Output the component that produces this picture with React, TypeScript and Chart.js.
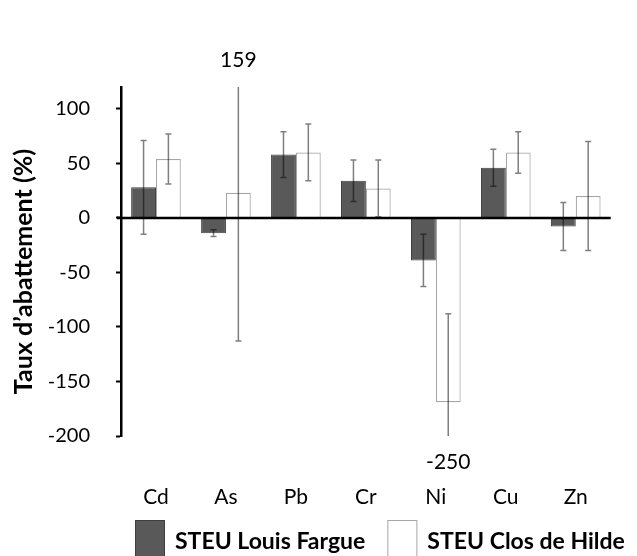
import React, { useEffect, useRef } from "react";
import { Chart, registerables } from "chart.js";

Chart.register(...registerables);

const categories = ["Cd", "As", "Pb", "Cr", "Ni", "Cu", "Zn"];
const louisFargue = [28, -14, 58, 34, -39, 46, -8];
const louisFargueErr = [43, 3, 21, 19, 24, 17, 22];
const closHilde = [54, 23, 60, 27, -169, 60, 20];
const closHildeErr = [23, 136, 26, 26, 81, 19, 50];
const yTicks = [-200, -150, -100, -50, 0, 50, 100];
const yMin = -200;
const yMax = 120;
const yTitle = "Taux d’abattement (%)";
const errors = [louisFargueErr, closHildeErr];

const FONT = "Lato";

const overlayPlugin = {
  id: "overlay",
  afterDatasetsDraw(chart: any) {
    const { ctx, chartArea, scales } = chart;
    const y = scales.y;
    ctx.save();
    // zero line
    ctx.strokeStyle = "#000";
    ctx.lineWidth = 2.5;
    const y0 = y.getPixelForValue(0);
    ctx.beginPath();
    ctx.moveTo(chartArea.left - 4, y0);
    ctx.lineTo(chartArea.right, y0);
    ctx.stroke();

    // error bars
    chart.data.datasets.forEach((ds: any, di: number) => {
      const meta = chart.getDatasetMeta(di);
      meta.data.forEach((bar: any, i: number) => {
        const v = ds.data[i];
        const e = errors[di][i];
        const hi = v + e;
        const lo = v - e;
        const pHi = y.getPixelForValue(Math.min(hi, yMax));
        const pLo = y.getPixelForValue(Math.max(lo, yMin));
        ctx.strokeStyle = "rgba(0,0,0,0.5)";
        ctx.lineWidth = 1.5;
        ctx.beginPath();
        ctx.moveTo(bar.x, pHi);
        ctx.lineTo(bar.x, pLo);
        if (hi <= yMax) {
          ctx.moveTo(bar.x - 3, pHi);
          ctx.lineTo(bar.x + 3, pHi);
        }
        if (lo >= yMin) {
          ctx.moveTo(bar.x - 3, pLo);
          ctx.lineTo(bar.x + 3, pLo);
        }
        ctx.stroke();
        ctx.fillStyle = "#000";
        ctx.font = `21px ${FONT}`;
        ctx.textAlign = "center";
        ctx.textBaseline = "middle";
        if (hi > yMax) {
          ctx.fillText(String(Math.round(hi)), bar.x, chartArea.top - 27);
        }
        if (lo < yMin) {
          ctx.fillText(String(Math.round(lo)), bar.x, chartArea.bottom + 26);
        }
      });
    });

    // y title
    ctx.save();
    ctx.translate(24, (chartArea.top + chartArea.bottom) / 2 + 10);
    ctx.rotate(-Math.PI / 2);
    ctx.font = `bold 25px ${FONT}`;
    ctx.fillStyle = "#000";
    ctx.textAlign = "center";
    ctx.textBaseline = "middle";
    ctx.fillText(yTitle, 0, 0);
    ctx.restore();

    // legend
    let lx = chartArea.left + 14;
    const top = chartArea.bottom + 84;
    ctx.font = `bold 23px ${FONT}`;
    ctx.textAlign = "left";
    ctx.textBaseline = "middle";
    chart.data.datasets.forEach((ds: any) => {
      ctx.fillStyle = ds.backgroundColor;
      ctx.strokeStyle = ds.borderColor;
      ctx.lineWidth = 1;
      ctx.fillRect(lx, top, 29, 40);
      ctx.strokeRect(lx + 0.5, top + 0.5, 29, 40);
      ctx.fillStyle = "#000";
      ctx.fillText(ds.label, lx + 40, top + 22);
      lx += 40 + ctx.measureText(ds.label).width + 22;
    });
    ctx.restore();
  },
};

export default function App() {
  const ref = useRef<HTMLCanvasElement>(null);
  useEffect(() => {
    if (!ref.current) return;
    Chart.defaults.font.family = FONT;
    const chart = new Chart(ref.current, {
      type: "bar",
      data: {
        labels: categories,
        datasets: [
          {
            label: "STEU Louis Fargue",
            data: louisFargue,
            backgroundColor: "#595959",
            borderColor: "#3f3f3f",
            borderWidth: 1,
          },
          {
            label: "STEU Clos de Hilde",
            data: closHilde,
            backgroundColor: "#ffffff",
            borderColor: "#a6a6a6",
            borderWidth: 1.2,
          },
        ],
      },
      options: {
        animation: false,
        responsive: true,
        maintainAspectRatio: false,
        layout: { padding: { top: 87, right: 3, bottom: 0, left: 0 } },
        datasets: { bar: { categoryPercentage: 0.71, barPercentage: 1 } },
        plugins: { legend: { display: false }, tooltip: { enabled: false } },
        scales: {
          x: {
            grid: { display: false, drawTicks: false },
            border: { display: false },
            ticks: { padding: 49, color: "#000", font: { size: 21 } },
            afterFit: (axis: any) => {
              axis.height = 120;
            },
          },
          y: {
            min: yMin,
            max: yMax,
            afterBuildTicks: (axis: any) => {
              axis.ticks = yTicks.map((v) => ({ value: v }));
            },
            afterFit: (axis: any) => {
              axis.width = 121;
            },
            grid: {
              color: "transparent",
              tickColor: "#000",
              tickLength: 5,
              tickWidth: 2,
            },
            border: { display: true, color: "#000", width: 2.5 },
            ticks: { padding: 26, color: "#000", font: { size: 20 } },
          },
        },
      },
      plugins: [overlayPlugin],
    });
    return () => chart.destroy();
  }, []);
  return (
    <div style={{ position: "fixed", left: 0, top: 0, width: 637, height: 556, background: "#fff" }}>
      <canvas ref={ref} />
    </div>
  );
}
